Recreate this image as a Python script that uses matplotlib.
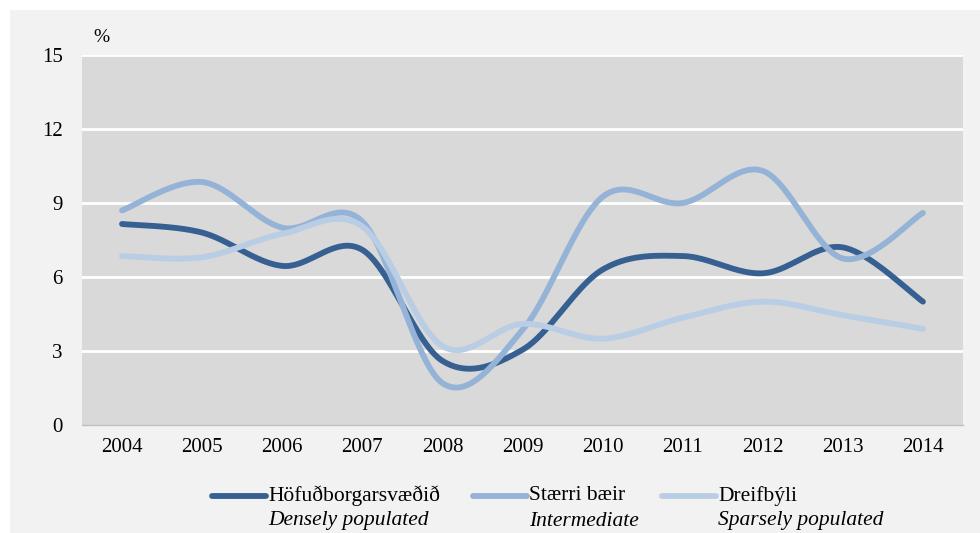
import numpy as np
import matplotlib
matplotlib.use("Agg")
import matplotlib.pyplot as plt
from matplotlib.lines import Line2D

years = [2004, 2005, 2006, 2007, 2008, 2009, 2010, 2011, 2012, 2013, 2014]
dense = [8.15, 7.8, 6.45, 7.1, 2.6, 3.05, 6.3, 6.85, 6.15, 7.2, 5.0]
intermediate = [8.7, 9.85, 8.0, 8.25, 1.7, 3.85, 9.25, 9.0, 10.3, 6.75, 8.6]
sparse = [6.85, 6.8, 7.75, 8.05, 3.2, 4.1, 3.5, 4.35, 5.0, 4.45, 3.9]

series_names = ["Höfuðborgarsvæðið", "Stærri bæir", "Dreifbýli"]
series_en = ["Densely populated", "Intermediate", "Sparsely populated"]
colors = ["#376092", "#95b3d7", "#b9cde5"]
yticks = [0, 3, 6, 9, 12, 15]

plt.rcParams['font.family'] = ['Liberation Serif', 'DejaVu Serif']


def smooth(xs, ys, n=40):
    xs = np.asarray(xs, float)
    ys = np.asarray(ys, float)
    px = np.concatenate([[xs[0]], xs, [xs[-1]]])
    py = np.concatenate([[ys[0]], ys, [ys[-1]]])
    ox, oy = [], []
    t = np.linspace(0, 1, n)
    for i in range(1, len(px) - 2):
        p0 = np.array([px[i], py[i]])
        p3 = np.array([px[i + 1], py[i + 1]])
        c1 = p0 + (np.array([px[i + 1], py[i + 1]]) - np.array([px[i - 1], py[i - 1]])) / 6
        c2 = p3 - (np.array([px[i + 2], py[i + 2]]) - np.array([px[i], py[i]])) / 6
        b = ((1 - t) ** 3)[:, None] * p0 + (3 * (1 - t) ** 2 * t)[:, None] * c1 + \
            (3 * (1 - t) * t ** 2)[:, None] * c2 + (t ** 3)[:, None] * p3
        ox.extend(b[:, 0]); oy.extend(b[:, 1])
    return np.array(ox), np.array(oy)


fig = plt.figure(figsize=(9.8, 5.33), dpi=100)
fig.patch.set_facecolor("white")
bg = plt.Rectangle((10 / 980, 0), 970 / 980, 1 - 10 / 533, transform=fig.transFigure,
                   facecolor="#f2f2f2", edgecolor="none", zorder=-10)
fig.patches.append(bg)

ax = fig.add_axes([82 / 980, 1 - 425 / 533, 881 / 980, 370 / 533])
ax.set_facecolor("#d9d9d9")
x = np.arange(len(years))
for vals, c in zip([dense, intermediate, sparse], colors):
    sx, sy = smooth(x, vals)
    ax.plot(sx, sy, color=c, lw=4.2, solid_capstyle="round", zorder=3)

ax.set_xlim(-0.5, len(years) - 0.5)
ax.set_ylim(0, 15)
ax.set_yticks(yticks)
ax.set_yticklabels([str(v) for v in yticks], fontsize=15)
ax.set_xticks(x)
ax.set_xticklabels([str(y) for y in years], fontsize=15)
ax.tick_params(axis="y", length=0, pad=14)
ax.tick_params(axis="x", length=0, pad=9)
for yv in yticks[1:]:
    ax.axhline(yv, color="white", lw=2, zorder=1)
for s in ["top", "right", "left"]:
    ax.spines[s].set_visible(False)
ax.spines["bottom"].set_color("#bfbfbf")
ax.spines["bottom"].set_linewidth(1)

fig.text(93 / 980, 1 - 37 / 533, "%", fontsize=14, ha="left", va="center")

hx = [212, 473, 662]
for i in range(3):
    x0 = hx[i] / 980
    x1 = (hx[i] + 54) / 980
    yl = 1 - 496 / 533
    fig.add_artist(Line2D([x0, x1], [yl, yl], transform=fig.transFigure,
                          color=colors[i], lw=4.2, solid_capstyle="round"))
    fig.text((hx[i] + 56) / 980, yl, series_names[i], fontsize=15.5, ha="left", va="center")
    fig.text((hx[i] + 56) / 980, 1 - 521 / 533, series_en[i], fontsize=15.5,
             ha="left", va="center", style="italic")

fig.savefig("out.png", dpi=100, facecolor=fig.get_facecolor())
